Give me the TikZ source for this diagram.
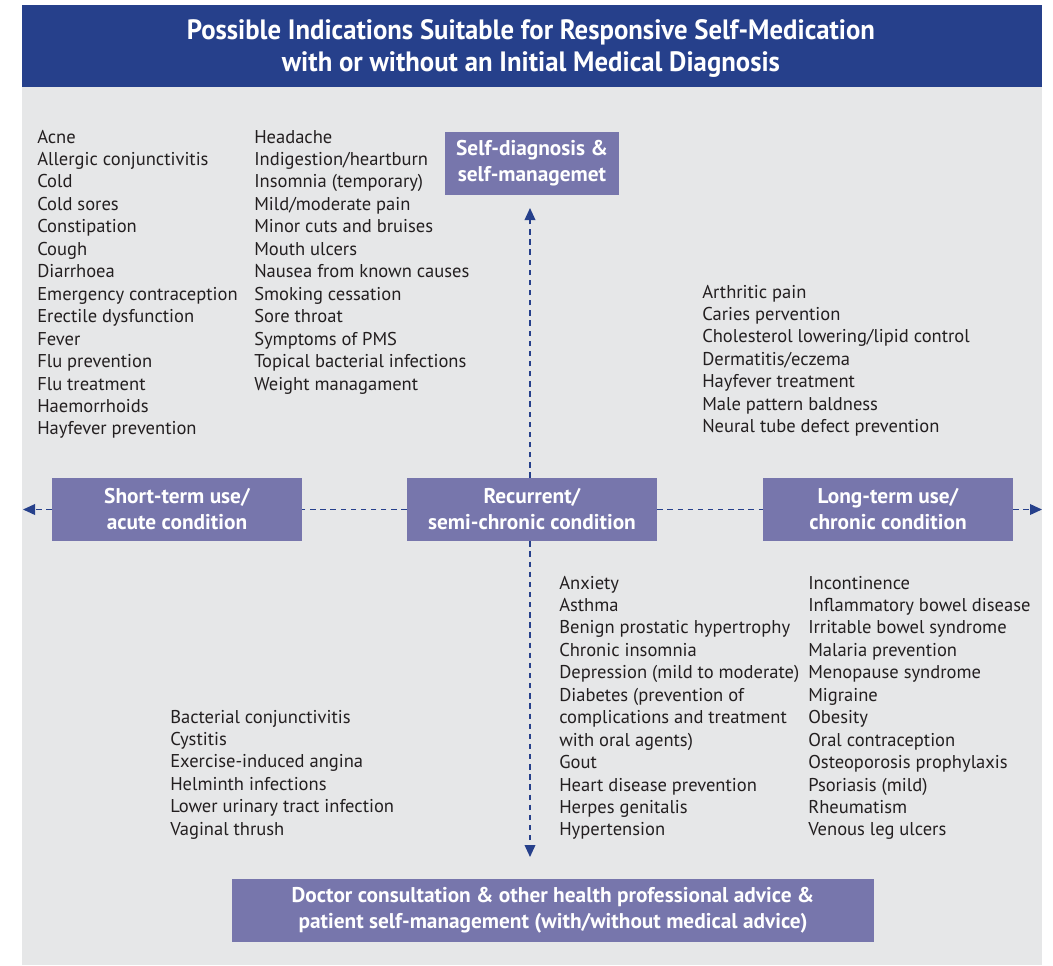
\documentclass[tikz,border=0pt]{standalone}
\usepackage{fontspec}
\setmainfont{PT Sans}
\newfontfamily\titlefont{PT Sans}[FakeStretch=0.955]
\usetikzlibrary{arrows.meta}

\definecolor{bandblue}{HTML}{26408B}
\definecolor{panelgray}{HTML}{E6E7E8}
\definecolor{boxpurple}{HTML}{7776AC}
\definecolor{inkdark}{HTML}{231F20}
\definecolor{arrowblue}{HTML}{26408B}

\tikzset{
  item/.style={anchor=base west, inner sep=0pt, text=inkdark,
    font=\fontsize{13.9pt}{16pt}\selectfont},
  catbox/.style={fill=boxpurple, text=white, align=center, inner sep=0pt,
    minimum width=250*0.75pt, minimum height=63*0.75pt,
    font=\fontsize{16pt}{19.5pt}\selectfont\bfseries},
  link/.style={arrowblue, line width=1.1pt, dash pattern=on 4pt off 3.6pt},
  arrowlink/.style={link, -{Triangle[length=9pt,width=8pt]}},
}

\begin{document}
\begin{tikzpicture}[x=0.75pt,y=-0.75pt]
  \useasboundingbox (0,0) rectangle (1053,965);

  % background panel and heading band
  \fill[panelgray] (22,87) rectangle (1042,965);
  \fill[bandblue] (22,5) rectangle (1042,87);
  \node[name=title, text=white, align=center, inner sep=0pt,
        font=\titlefont\bfseries\fontsize{21pt}{24pt}\selectfont]
    at (531,48.5) {Possible Indications Suitable for Responsive Self-Medication\\
                 with or without an Initial Medical Diagnosis};

  % category boxes
  \node[catbox, name=shortterm] at (177,509.5) {Short-term use/\\acute condition};
  \node[catbox, name=recurrent] at (532,509.5) {Recurrent/\\semi-chronic condition};
  \node[catbox, name=longterm] at (888,509.5) {Long-term use/\\chronic condition};
  \node[catbox, name=selfdiag, minimum width=174*0.75pt] at (532,163)
    {Self-diagnosis \&\\self-managemet};
  \node[catbox, name=doctor, minimum width=642*0.75pt] at (553,910.5)
    {Doctor consultation \& other health professional advice \&\\
     patient self-management (with/without medical advice)};

  % free ends of the axes
  \coordinate (lefttip) at (23,509.5);
  \coordinate (righttip) at (1042,509.5);
  \coordinate (uptip) at (530,208);
  \coordinate (downtip) at (530,857);

  % axes
  \draw[link] (recurrent.west) -- (shortterm.east);
  \draw[arrowlink] (shortterm.west) -- (lefttip);
  \draw[link] (recurrent.east) -- (longterm.west);
  \draw[arrowlink] (longterm.east) -- (righttip);
  \draw[arrowlink] (recurrent.north -| uptip) -- (uptip);
  \draw[arrowlink] (recurrent.south -| downtip) -- (downtip);

  % indication lists
  \foreach \t [count=\i from 0] in {Acne, Allergic conjunctivitis, Cold,
      Cold sores, Constipation, Cough, Diarrhoea, Emergency contraception,
      Erectile dysfunction, Fever, Flu prevention, Flu treatment,
      Haemorrhoids, Hayfever prevention}
    \node[item, name=sa\i] at (37,143+\i*22.46) {\t};

  \foreach \t [count=\i from 0] in {Headache, Indigestion/heartburn,
      Insomnia (temporary), Mild/moderate pain, Minor cuts and bruises,
      Mouth ulcers, Nausea from known causes, Smoking cessation, Sore throat,
      Symptoms of PMS, Topical bacterial infections, Weight managament}
    \node[item, name=sb\i] at (254,143+\i*22.46) {\t};

  \foreach \t [count=\i from 0] in {Arthritic pain, Caries pervention,
      Cholesterol lowering/lipid control, Dermatitis/eczema,
      Hayfever treatment, Male pattern baldness,
      Neural tube defect prevention}
    \node[item, name=lc\i] at (702,298+\i*22.46) {\t};

  \foreach \t [count=\i from 0] in {Bacterial conjunctivitis, Cystitis,
      Exercise-induced angina, Helminth infections,
      Lower urinary tract infection, Vaginal thrush}
    \node[item, name=da\i] at (170,723+\i*22.46) {\t};

  \foreach \t [count=\i from 0] in {Anxiety, Asthma,
      Benign prostatic hypertrophy, Chronic insomnia,
      Depression (mild to moderate), Diabetes (prevention of,
      complications and treatment, with oral agents), Gout,
      Heart disease prevention, Herpes genitalis, Hypertension}
    \node[item, name=db\i] at (559,589+\i*22.45) {\t};

  \foreach \t [count=\i from 0] in {Incontinence, Inflammatory bowel disease,
      Irritable bowel syndrome, Malaria prevention, Menopause syndrome,
      Migraine, Obesity, Oral contraception, Osteoporosis prophylaxis,
      Psoriasis (mild), Rheumatism, Venous leg ulcers}
    \node[item, name=dc\i] at (808,589+\i*22.45) {\t};
\end{tikzpicture}
\end{document}
